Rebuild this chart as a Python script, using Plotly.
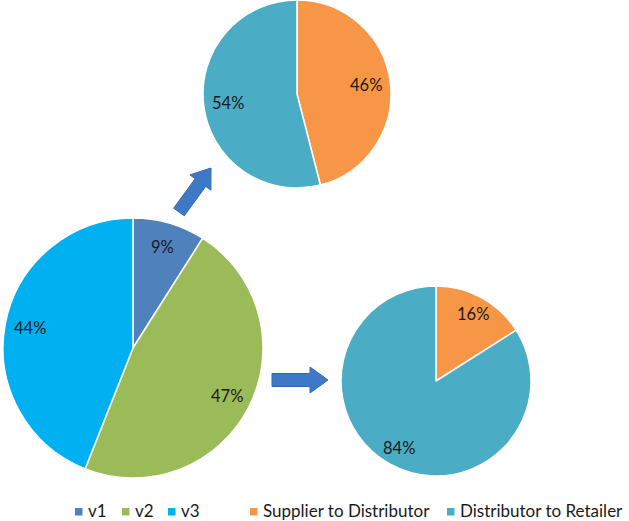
import math
import plotly.graph_objects as go

# data
main_labels = ['v1', 'v2', 'v3']
main_values = [9, 47, 44]
flow_labels = ['Supplier to Distributor', 'Distributor to Retailer']
top_values = [46, 54]
right_values = [16, 84]

main_colors = ['#4F81BD', '#9BBB59', '#00B0F0']
flow_colors = ['#F79646', '#4BACC6']

W, H = 629, 521
FONT = 'Lato, Liberation Sans, Arial, sans-serif'


def dom(x0, x1, y0, y1):
    # pixel box -> paper domain
    return dict(x=[x0 / W, x1 / W], y=[1 - y1 / H, 1 - y0 / H])


def block_arrow(x0, y0, x1, y1, bw=6.5, hw=13, hl=18):
    dx, dy = x1 - x0, y1 - y0
    L = math.hypot(dx, dy)
    ux, uy = dx / L, dy / L
    nx, ny = -uy, ux
    bx, by = x1 - ux * hl, y1 - uy * hl
    pts = [
        (x0 + nx * bw, y0 + ny * bw),
        (bx + nx * bw, by + ny * bw),
        (bx + nx * hw, by + ny * hw),
        (x1, y1),
        (bx - nx * hw, by - ny * hw),
        (bx - nx * bw, by - ny * bw),
        (x0 - nx * bw, y0 - ny * bw),
    ]
    return 'M ' + ' L '.join(f'{x:.1f},{y:.1f}' for x, y in pts) + ' Z'


def pct_labels(values, cx, cy, r, frac=0.8):
    # percentage labels placed like Excel's inside-end labels
    total = sum(values)
    out = []
    acc = 0
    for v in values:
        mid = (acc + v / 2) / total * 2 * math.pi
        acc += v
        out.append(dict(x=cx + frac * r * math.sin(mid), y=cy - frac * r * math.cos(mid),
                        text=f'{round(100 * v / total)}%', showarrow=False,
                        xref='x', yref='y', font=dict(size=16.5, color='#1a1a1a')))
    return out


common = dict(sort=False, direction='clockwise', rotation=0,
              textinfo='none', hoverinfo='label+percent', showlegend=False)

fig = go.Figure()
fig.add_trace(go.Pie(labels=main_labels, values=main_values,
                     marker=dict(colors=main_colors, line=dict(color='white', width=1.5)),
                     domain=dom(3, 263, 218, 478), **common))
fig.add_trace(go.Pie(labels=flow_labels, values=top_values,
                     marker=dict(colors=flow_colors, line=dict(color='white', width=1.5)),
                     domain=dom(203, 391, 0, 188), **common))
fig.add_trace(go.Pie(labels=flow_labels, values=right_values,
                     marker=dict(colors=flow_colors, line=dict(color='white', width=1.5)),
                     domain=dom(341, 531, 286, 476), **common))

for a in (pct_labels(main_values, 133, 348, 130, 0.81)
          + pct_labels(top_values, 297, 94, 94, 0.74)
          + pct_labels(right_values, 436, 381, 95, 0.8)):
    fig.add_annotation(**a)

arrow_style = dict(type='path', xref='x', yref='y', fillcolor='#3D79C6',
                   line=dict(color='#3468AD', width=1), layer='above')
fig.add_shape(path=block_arrow(179, 212, 211, 168), **arrow_style)
fig.add_shape(path=block_arrow(272, 380, 328, 380), **arrow_style)

# Excel-style legends below the pies (square swatch + label)
legend_y = 510.5
for labels, colors, xs in [(main_labels, main_colors, [75, 122, 168]),
                           (flow_labels, flow_colors, [250, 447])]:
    for lab, col, x in zip(labels, colors, xs):
        fig.add_shape(type='rect', xref='x', yref='y', x0=x, x1=x + 7.5,
                      y0=legend_y - 2.5, y1=legend_y + 5,
                      fillcolor=col, line=dict(width=0))
        fig.add_annotation(x=x + 11.5, y=legend_y, xref='x', yref='y', text=lab,
                           showarrow=False, xanchor='left', yanchor='middle',
                           borderpad=0, font=dict(size=17, color='#1a1a1a'))

fig.update_layout(
    width=W, height=H,
    margin=dict(l=0, r=0, t=0, b=0),
    paper_bgcolor='white', plot_bgcolor='white',
    font=dict(family=FONT, size=17, color='#1a1a1a'),
    xaxis=dict(range=[0, W], visible=False, fixedrange=True),
    yaxis=dict(range=[H, 0], visible=False, fixedrange=True),
    showlegend=False,
)

fig.write_html("out.html", config={'displayModeBar': False},
               post_script="document.body.style.margin='0';")
